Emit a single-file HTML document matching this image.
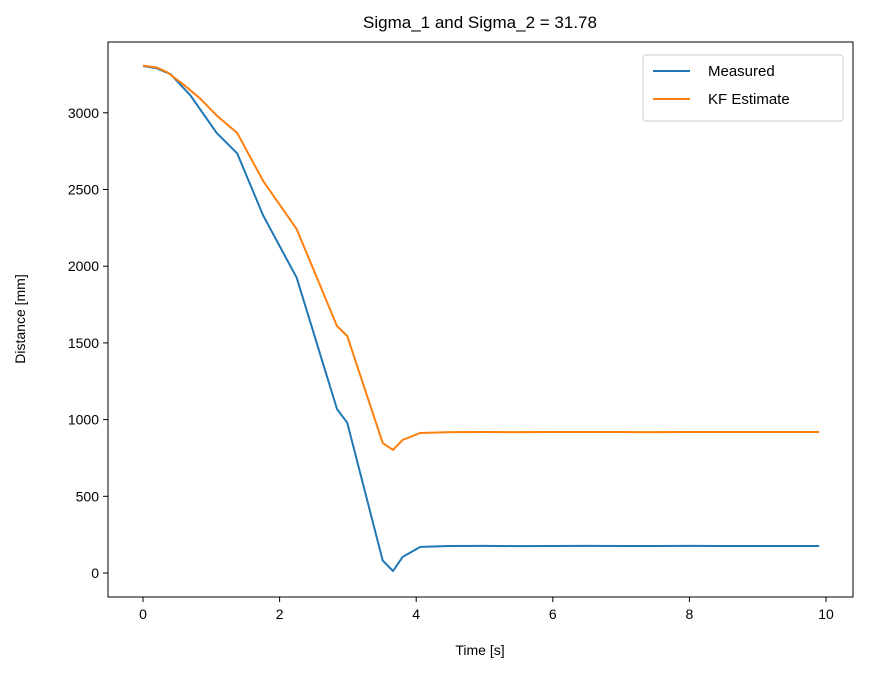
<!DOCTYPE html>
<html><head><meta charset="utf-8"><style>
body{margin:0;background:#fff;}
svg{font-family:"Liberation Sans","DejaVu Sans",sans-serif;}
</style></head><body>
<svg id="chart" width="877" height="673"></svg>
<script>
const timesMeasured=[0,0.2,0.4,0.69,1.08,1.38,1.76,2.25,2.84,2.99,3.51,3.66,3.8,4.06,4.5,5,5.5,6,6.5,7,7.5,8,8.5,9,9.5,9.9];
const measured=[3305,3290,3253,3116,2868,2735,2330,1925,1069,980,81,13,104,170,176,177,175,176,177,176,176,177,176,176,176,176];
const timesKF=[0,0.2,0.35,0.59,0.83,1.08,1.38,1.76,2.25,2.84,2.99,3.51,3.66,3.8,4.06,4.5,5,5.5,6,6.5,7,7.5,8,8.5,9,9.5,9.9];
const kfEstimate=[3308,3295,3266,3185,3096,2982,2868,2555,2242,1610,1545,847,802,867,913,918,919,918,919,919,919,918,919,919,919,919,919];
const xTicks=[0,2,4,6,8,10];
const yTicks=[0,500,1000,1500,2000,2500,3000];
const NS='http://www.w3.org/2000/svg';
const svg=document.getElementById('chart');
const L=108,R=853,T=42,B=597;
const xs=t=>143+t*68.3;
const ys=v=>573-v*0.1534;
function el(tag,attrs,text){const e=document.createElementNS(NS,tag);for(const k in attrs)e.setAttribute(k,attrs[k]);if(text!==undefined)e.textContent=text;svg.appendChild(e);return e;}
let t=el('text',{x:480,y:28,'text-anchor':'middle','font-size':17,fill:'#000'},'Sigma_1 and Sigma_2 = 31.78');


xTicks.forEach(v=>{
  const l=el('line',{x1:xs(v),x2:xs(v),y1:B,y2:B+5,stroke:'#000'});
  
  
  const tx=el('text',{x:xs(v),y:B+22,'text-anchor':'middle','font-size':14},String(v));
  
  
});
yTicks.forEach(v=>{
  const l=el('line',{x1:L-5,x2:L,y1:ys(v),y2:ys(v),stroke:'#000'});
  
  
  const tx=el('text',{x:L-9,y:ys(v)+5,'text-anchor':'end','font-size':14},String(v));
  
  
});
let xl=el('text',{x:480,y:655,'text-anchor':'middle','font-size':14},'Time [s]');


let yl=el('text',{x:0,y:0,'text-anchor':'middle','font-size':14,transform:'translate(25,319) rotate(-90)'},'Distance [mm]');


function line(ts,vs,color,name){
  const p=el('polyline',{points:ts.map((x,i)=>xs(x)+','+ys(vs[i])).join(' '),fill:'none',stroke:color,'stroke-width':2,'stroke-linejoin':'round'});
  
  
}
line(timesMeasured,measured,'#1f77b4','measured-line');
line(timesKF,kfEstimate,'#ff7f0e','kf-estimate-line');
let frame=el('rect',{x:L,y:T,width:R-L,height:B-T,fill:'none',stroke:'#000','stroke-width':1});


let lg=el('rect',{x:643,y:55,width:200,height:66,rx:3,fill:'#fff',stroke:'#ccc'});


[['Measured','#1f77b4',76],['KF Estimate','#ff7f0e',104]].forEach(([n,c,y])=>{
  const l=el('line',{x1:653,x2:690,y1:y-5,y2:y-5,stroke:c,'stroke-width':2});
  
  
  const tx=el('text',{x:708,y:y,'font-size':15},n);
  
  
});
</script>
</body></html>
